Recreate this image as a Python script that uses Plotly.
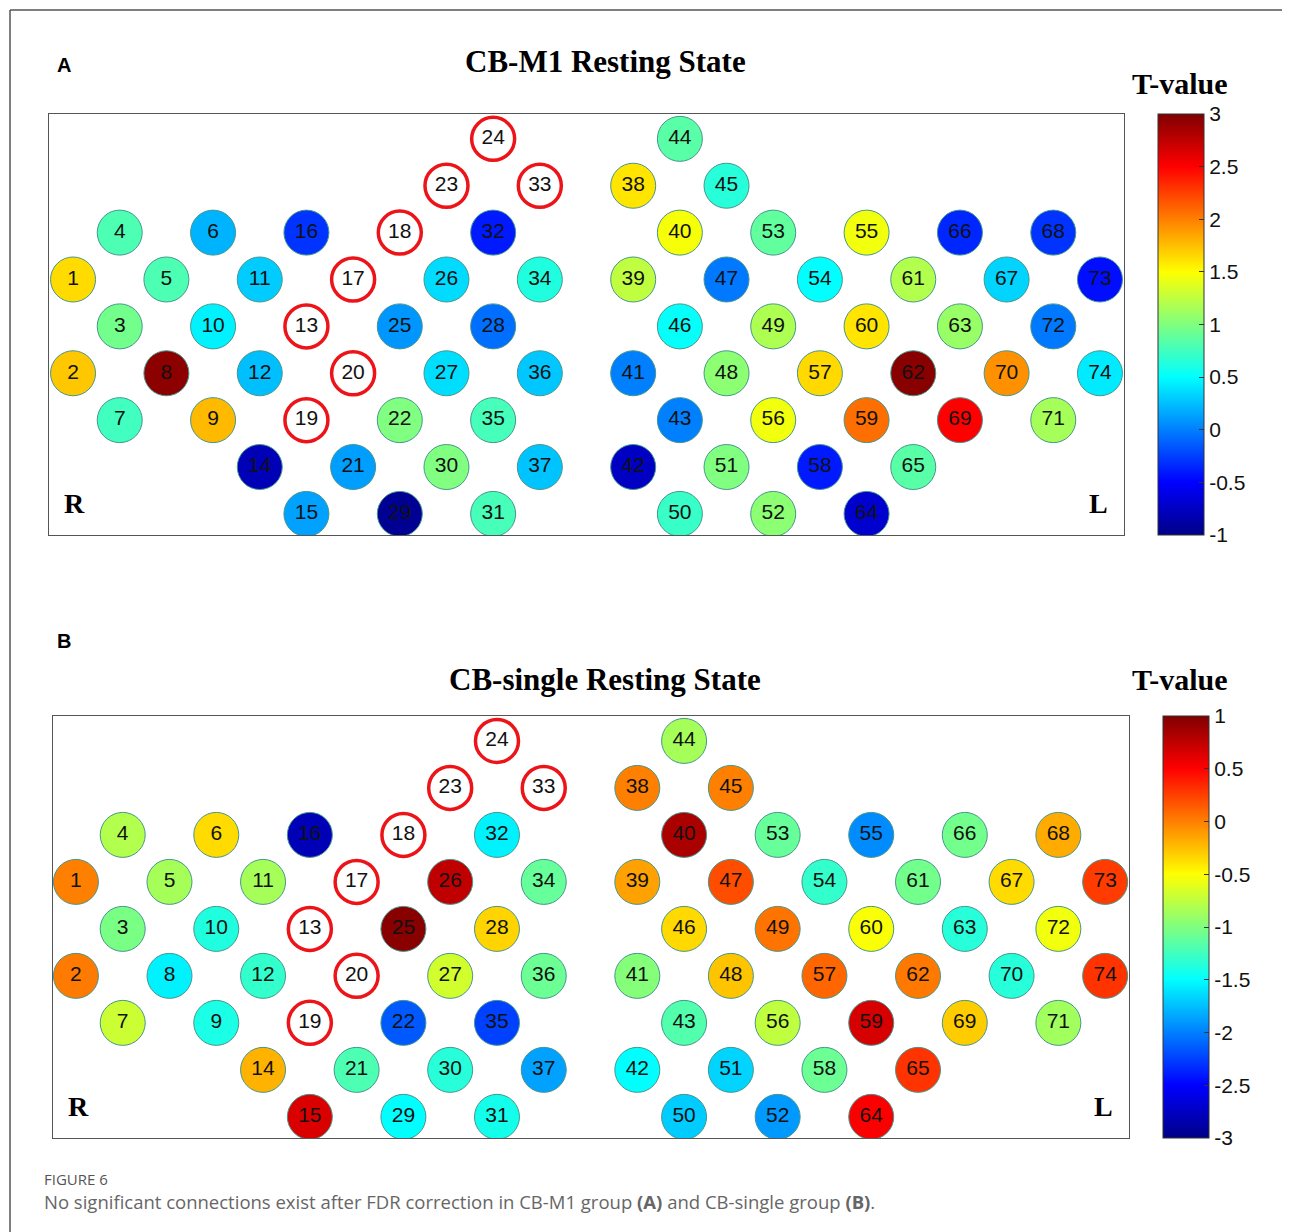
import plotly.graph_objects as go

# ---------------- data ----------------
# channel montage: channel number at each grid column (0 = no channel), one list per grid row
MONTAGE_ROWS = [
    [0, 0, 0, 0, 0, 0, 0, 0, 0, 24, 0, 0, 0, 44, 0, 0, 0, 0, 0, 0, 0, 0, 0],
    [0, 0, 0, 0, 0, 0, 0, 0, 23, 0, 33, 0, 38, 0, 45, 0, 0, 0, 0, 0, 0, 0, 0],
    [0, 4, 0, 6, 0, 16, 0, 18, 0, 32, 0, 0, 0, 40, 0, 53, 0, 55, 0, 66, 0, 68, 0],
    [1, 0, 5, 0, 11, 0, 17, 0, 26, 0, 34, 0, 39, 0, 47, 0, 54, 0, 61, 0, 67, 0, 73],
    [0, 3, 0, 10, 0, 13, 0, 25, 0, 28, 0, 0, 0, 46, 0, 49, 0, 60, 0, 63, 0, 72, 0],
    [2, 0, 8, 0, 12, 0, 20, 0, 27, 0, 36, 0, 41, 0, 48, 0, 57, 0, 62, 0, 70, 0, 74],
    [0, 7, 0, 9, 0, 19, 0, 22, 0, 35, 0, 0, 0, 43, 0, 56, 0, 59, 0, 69, 0, 71, 0],
    [0, 0, 0, 0, 14, 0, 21, 0, 30, 0, 37, 0, 42, 0, 51, 0, 58, 0, 65, 0, 0, 0, 0],
    [0, 0, 0, 0, 0, 15, 0, 29, 0, 31, 0, 0, 0, 50, 0, 52, 0, 64, 0, 0, 0, 0, 0],
]

# T-values for channels 1..74 (None = channel excluded, drawn as red ring)
T_CBM1 = [
    1.64, 1.72, 0.95, 0.80, 0.80, 0.20, 0.75, 2.95, 1.77, 0.45,
    0.30, 0.25, None, -0.80, 0.13, -0.30, None, None, None, None,
    0.12, 1.00, None, None, 0.09, 0.36, 0.37, -0.07, -0.95, 1.00,
    0.78, -0.40, None, 0.62, 0.77, 0.28, 0.27, 1.60, 1.25, 1.47,
    0.00, -0.75, 0.00, 0.85, 0.65, 0.52, -0.03, 1.05, 1.18, 0.72,
    1.00, 1.05, 0.88, 0.50, 1.45, 1.45, 1.65, -0.40, 2.07, 1.60,
    1.20, 2.97, 1.10, -0.70, 0.85, -0.35, 0.33, -0.30, 2.50, 1.93,
    1.15, -0.03, -0.45, 0.42,
]

T_CBSINGLE = [
    0.00, 0.02, -1.02, -0.80, -0.85, -0.36, -0.70, -1.55, -1.40, -1.38,
    -0.85, -1.30, None, -0.20, 0.64, -2.80, None, None, None, None,
    -1.20, -2.15, None, None, 0.97, 0.75, -0.68, -0.33, -1.50, -1.35,
    -1.42, -1.55, None, -1.10, -2.25, -1.08, -1.87, 0.00, -0.13, 0.83,
    -0.98, -1.50, -1.18, -0.85, 0.00, -0.35, 0.20, -0.27, 0.05, -1.70,
    -1.67, -1.90, -1.10, -1.30, -1.95, -0.75, 0.10, -1.08, 0.66, -0.52,
    -1.05, 0.03, -1.35, 0.52, 0.30, -1.05, -0.36, -0.17, -0.30, -1.35,
    -0.87, -0.55, 0.27, 0.30,
]

PANEL_TITLES = ["CB-M1 Resting State", "CB-single Resting State"]
PANEL_LETTERS = ["A", "B"]
CBAR_RANGES = [(-1, 3), (-3, 1)]
CBAR_TICKS_A = [-1, -0.5, 0, 0.5, 1, 1.5, 2, 2.5, 3]
CBAR_TICKS_B = [-3, -2.5, -2, -1.5, -1, -0.5, 0, 0.5, 1]
CAPTION_HEAD = "FIGURE 6"
CAPTION_TEXT = ("No significant connections exist after FDR correction in CB-M1 group "
                "<b>(A)</b> and CB-single group <b>(B)</b>.")

# ---------------- styles ----------------
PAGE_OFF = 8                      # browser body margin
W, H = 1290 - PAGE_OFF, 1232 - PAGE_OFF
JET = [[0.0, "rgb(0,0,135)"], [0.125, "rgb(0,0,255)"], [0.375, "rgb(0,255,255)"],
       [0.625, "rgb(255,255,0)"], [0.875, "rgb(255,0,0)"], [1.0, "rgb(128,0,0)"]]
NUM_FONT = dict(family="Liberation Sans, Arial", size=21, color="#111")
SERIF_B = "Liberation Serif, Times New Roman"


def px_x(px):
    return (px - PAGE_OFF) / W


def px_y(py):
    return 1 - (py - PAGE_OFF) / H


# panel boxes in page pixels: (left, right, top, bottom), colorbar left x
PANELS = [
    dict(box=(49, 1124, 114, 535), cbx=1158, title_y=62, letter_y=65, tv_y=83),
    dict(box=(53, 1129, 716, 1138), cbx=1163, title_y=679, letter_y=641, tv_y=679),
]

# positions of channels from montage
chan_col = {}
chan_row = {}
for r, row in enumerate(MONTAGE_ROWS):
    for c, ch in enumerate(row):
        if ch:
            chan_col[ch] = c
            chan_row[ch] = r

fig = go.Figure()

datasets = [T_CBM1, T_CBSINGLE]
ticksets = [CBAR_TICKS_A, CBAR_TICKS_B]
annotations = []


def ann(text, x, y, size, family, color="#000", xanchor="center"):
    return dict(text=text, x=x, y=y, xref="paper", yref="paper", showarrow=False,
                xanchor=xanchor, yanchor="middle", borderpad=0,
                font=dict(family=family, size=size, color=color))


for i, (vals, pan) in enumerate(zip(datasets, PANELS)):
    xa = "x" if i == 0 else "x2"
    ya = "y" if i == 0 else "y2"
    good = [ch for ch in range(1, 75) if vals[ch - 1] is not None]
    bad = [ch for ch in range(1, 75) if vals[ch - 1] is None]
    l, r, t, b = pan["box"]
    cmin, cmax = CBAR_RANGES[i]
    fig.add_trace(go.Scatter(
        x=[chan_col[c] for c in good], y=[chan_row[c] for c in good],
        mode="markers+text", text=[str(c) for c in good],
        textposition="middle center", textfont=NUM_FONT,
        marker=dict(size=45, color=[vals[c - 1] for c in good], colorscale=JET,
                    cmin=cmin, cmax=cmax,
                    line=dict(width=1, color="rgb(70,150,140)"),
                    colorbar=dict(
                        x=px_x(pan["cbx"]), xanchor="left", xpad=0, ypad=0,
                        y=px_y((t + b) / 2), yanchor="middle",
                        len=(b - t) / H, lenmode="fraction",
                        thickness=46, thicknessmode="pixels",
                        outlinewidth=1, outlinecolor="#333",
                        tickvals=ticksets[i],
                        ticktext=[("%g" % v) for v in ticksets[i]],
                        ticks="inside", ticklen=5, tickcolor="#333",
                        tickfont=dict(family="Liberation Sans, Arial", size=21, color="#111"),
                    )),
        xaxis=xa, yaxis=ya, showlegend=False, hoverinfo="text",
    ))
    fig.add_trace(go.Scatter(
        x=[chan_col[c] for c in bad], y=[chan_row[c] for c in bad],
        mode="markers+text", text=[str(c) for c in bad],
        textposition="middle center", textfont=NUM_FONT,
        marker=dict(size=43, color="white", line=dict(width=3.5, color="rgb(236,20,24)")),
        xaxis=xa, yaxis=ya, showlegend=False, hoverinfo="text",
    ))

    annotations += [
        ann("<b>%s</b>" % PANEL_LETTERS[i], px_x(64), px_y(pan["letter_y"]), 20,
            "Liberation Sans, Arial"),
        ann("<b>%s</b>" % PANEL_TITLES[i], px_x(605), px_y(pan["title_y"]), 31, SERIF_B),
        ann("<b>T-value</b>", px_x(1180), px_y(pan["tv_y"]), 30, SERIF_B),
        ann("<b>R</b>", px_x(l + 25), px_y(b - 32), 28, SERIF_B),
        ann("<b>L</b>", px_x(r - 26), px_y(b - 32), 28, SERIF_B),
    ]

annotations += [
    ann(CAPTION_HEAD, px_x(43), px_y(1179), 15, "Open Sans, Lato", "#555", "left"),
    ann(CAPTION_TEXT, px_x(43), px_y(1201), 18.5, "Open Sans, Lato", "#666", "left"),
]

ax_common = dict(showgrid=False, zeroline=False, showticklabels=False, ticks="",
                 showline=True, mirror=True, linecolor="#555", linewidth=1, fixedrange=True)

l1, r1, t1, b1 = PANELS[0]["box"]
l2, r2, t2, b2 = PANELS[1]["box"]
fig.update_layout(
    width=W, height=H, margin=dict(l=0, r=0, t=0, b=0),
    paper_bgcolor="white", plot_bgcolor="white",
    xaxis=dict(domain=[px_x(l1), px_x(r1)], range=[-0.515, 22.515], **ax_common),
    yaxis=dict(domain=[px_y(b1), px_y(t1)], range=[8.45, -0.53], **ax_common),
    xaxis2=dict(domain=[px_x(l2), px_x(r2)], range=[-0.49, 22.51], anchor="y2", **ax_common),
    yaxis2=dict(domain=[px_y(b2), px_y(t2)], range=[8.45, -0.53], anchor="x2", **ax_common),
    annotations=annotations,
    shapes=[
        dict(type="line", xref="paper", yref="paper", x0=px_x(10), x1=1, y0=px_y(10), y1=px_y(10),
             line=dict(color="#555", width=1.5)),
        dict(type="line", xref="paper", yref="paper", x0=px_x(10), x1=px_x(10), y0=px_y(10), y1=0,
             line=dict(color="#555", width=1.5)),
    ],
)

fig.write_html("out.html")
